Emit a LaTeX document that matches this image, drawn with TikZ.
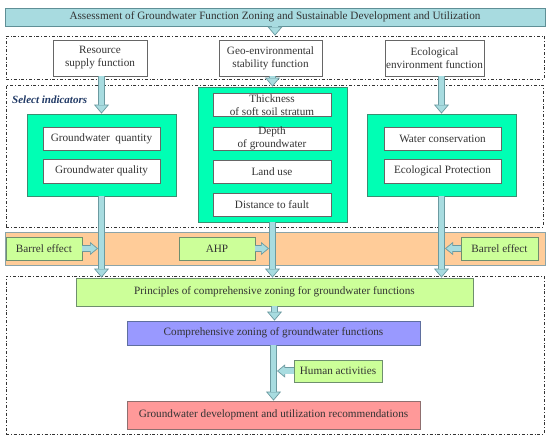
\documentclass[tikz,border=0pt]{standalone}
\usepackage{fontspec}
\setmainfont{Liberation Serif}
\usetikzlibrary{calc}
\usetikzlibrary{positioning}
\usetikzlibrary{arrows.meta}
\usepackage{xcolor}
\definecolor{titlecyan}{HTML}{A8DBE0}
\definecolor{titleedge}{HTML}{5F8F96}
\definecolor{arrowfill}{HTML}{A8DCE0}
\definecolor{arrowedge}{HTML}{6C9AA0}
\definecolor{mint}{HTML}{00FFB4}
\definecolor{mintedge}{HTML}{3A8F72}
\definecolor{lightgreen}{HTML}{CCFF99}
\definecolor{greenedge}{HTML}{6E8F6E}
\definecolor{peach}{HTML}{FFCC99}
\definecolor{peachedge}{HTML}{8BA3A8}
\definecolor{lavender}{HTML}{9999FF}
\definecolor{lavedge}{HTML}{5F6F9F}
\definecolor{rose}{HTML}{FF9999}
\definecolor{roseedge}{HTML}{8F6F6F}
\definecolor{boxgray}{HTML}{666666}
\definecolor{textgray}{HTML}{333333}
\definecolor{navy}{HTML}{1F3864}

\begin{document}
\begin{tikzpicture}[x=1pt, y=-1pt, font=\fontsize{11.2}{13}\selectfont, text=textgray,
  box/.style={line width=0.8pt, inner sep=0pt, align=center},
  whitebox/.style={box, draw=boxgray, fill=white},
  greenbox/.style={box, draw=mintedge, fill=mint},
  limebox/.style={box, draw=greenedge, fill=lightgreen},
  group/.style={draw=textgray, line width=0.7pt, dash dot, inner sep=0pt},
  fat/.style={draw=arrowedge, line width=7pt, -{Triangle[length=9pt, width=15pt, line width=0.7pt, fill=arrowfill]},
    postaction={draw=arrowfill, line width=5.6pt, -, shorten >=8.3pt}},
  smallfat/.style={draw=arrowedge, line width=7pt, -{Triangle[length=8pt, width=13pt, line width=0.7pt, fill=arrowfill]},
    postaction={draw=arrowfill, line width=5.6pt, -, shorten >=7.3pt}}]
\useasboundingbox (0,0) rectangle (550,435);
\node (stage1) [group, minimum width=538pt, minimum height=43pt] at (275,57.5) {};
\node (stage2) [group, minimum width=537pt, minimum height=142pt] at (274.5,156) {};
\node (stage3) [group, minimum width=538pt, minimum height=158pt] at (275,355) {};
\node (title) [box, draw=titleedge, fill=titlecyan, minimum width=540pt, minimum height=18pt] at (275,17) {Assessment of Groundwater Function Zoning and Sustainable Development and Utilization};
\node (res) [whitebox, minimum width=94pt, minimum height=36pt] at (100,58) {Resource\\supply function};
\node (geo) [whitebox, minimum width=103pt, minimum height=36pt] at (270.5,58) {Geo-environmental\\stability function};
\node (eco) [whitebox, minimum width=99pt, minimum height=36pt] at (434.5,58) {Ecological\\environment function};
\node (pick) [inner sep=0pt, anchor=west, text=navy, font=\fontsize{11}{13}\selectfont\bfseries\itshape] at (12,100) {Select indicators};
\node (leftg) [greenbox, minimum width=149pt, minimum height=82pt] at (101.5,155) {};
\node (qty) [whitebox, minimum width=117pt, minimum height=23pt] at (101.5,138.5) {Groundwater\ \ quantity};
\node (qual) [whitebox, minimum width=117pt, minimum height=24pt] at (101.5,171) {Groundwater quality};
\node (midg) [greenbox, minimum width=149pt, minimum height=135pt] at (272.5,154.5) {};
\node (thick) [whitebox, minimum width=118pt, minimum height=23pt] at (272,105) {Thickness\\of soft soil stratum};
\node (depth) [whitebox, minimum width=118pt, minimum height=23pt] at (272,138.5) {Depth\\of groundwater};
\node (landuse) [whitebox, minimum width=118pt, minimum height=23pt] at (272,171.5) {Land use};
\node (fault) [whitebox, minimum width=118pt, minimum height=23pt] at (272,204.5) {Distance to fault};
\node (rightg) [greenbox, minimum width=149pt, minimum height=82pt] at (441.5,155) {};
\node (water) [whitebox, minimum width=117pt, minimum height=23pt] at (442.5,138.5) {Water conservation};
\node (protect) [whitebox, minimum width=117pt, minimum height=24pt] at (442.5,171) {Ecological Protection};
\node (band) [box, draw=peachedge, fill=peach, minimum width=540pt, minimum height=33pt] at (275,248.5) {};
\node (barrelL) [limebox, minimum width=76pt, minimum height=23pt] at (44,248.5) {Barrel effect};
\node (ahp) [limebox, minimum width=76pt, minimum height=23pt] at (217,248.5) {AHP};
\node (barrelR) [limebox, minimum width=77pt, minimum height=23pt] at (499.5,248.5) {Barrel effect};
\node (principle) [limebox, minimum width=397pt, minimum height=28pt] at (274.5,292) {Principles of comprehensive zoning for groundwater functions};
\node (zoning) [box, draw=lavedge, fill=lavender, minimum width=293pt, minimum height=24pt] at (273.5,333) {Comprehensive zoning of groundwater functions};
\node (human) [limebox, minimum width=88pt, minimum height=22pt] at (338,371) {Human activities};
\node (advice) [box, draw=roseedge, fill=rose, minimum width=293pt, minimum height=28pt] at (273.5,415) {Groundwater development and utilization recommendations};
\draw[fat] (title.south) -- (stage1.north);
\draw[fat] (leftg.north |- res.south) -- (leftg.north);
\draw[fat] (midg.north |- geo.south) -- (midg.north);
\draw[fat] (rightg.north |- eco.south) -- (rightg.north);
\draw[fat] (leftg.south) -- (leftg.south |- principle.north);
\draw[fat] (midg.south) -- (midg.south |- principle.north);
\draw[fat] (rightg.south) -- (rightg.south |- principle.north);
\draw[fat] (principle.south) -- (principle.south |- zoning.north);
\draw[fat] (zoning.south) -- (advice.north);
\draw[smallfat] (barrelL.east) -- ([xshift=-3.5pt]barrelL.east -| leftg.south);
\draw[smallfat] (ahp.east) -- ([xshift=-3.5pt]ahp.east -| midg.south);
\draw[smallfat] (barrelR.west) -- ([xshift=3.5pt]barrelR.west -| rightg.south);
\draw[smallfat] (human.west) -- ([xshift=3.5pt]human.west -| zoning.south);
\end{tikzpicture}
\end{document}
